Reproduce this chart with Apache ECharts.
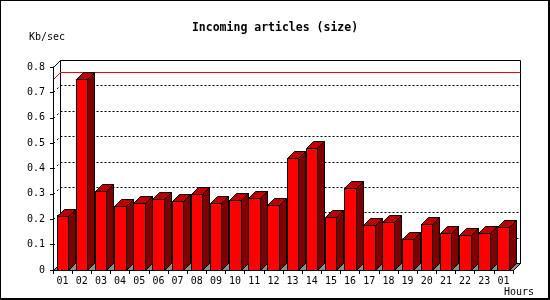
<!DOCTYPE html>
<html><head><meta charset="utf-8">
<script src="https://cdn.jsdelivr.net/npm/echarts@6/dist/echarts.min.js"></script>
<style>html,body{margin:0;padding:0;background:#fff}#c{width:550px;height:300px}</style>
</head><body><div id="c"></div>
<script>
// ---- data ----
const hours = ['01','02','03','04','05','06','07','08','09','10','11','12',
               '13','14','15','16','17','18','19','20','21','22','23','01'];
const sizes = [0.214,0.751,0.310,0.251,0.263,0.279,0.271,0.300,0.263,0.275,0.283,0.255,
               0.440,0.480,0.208,0.322,0.176,0.189,0.121,0.180,0.145,0.137,0.145,0.168];
const gridValues = [0.1,0.2,0.3,0.4,0.5,0.6,0.7];
const titleText = 'Incoming articles (size)';
const yUnit = 'Kb/sec';
const xUnit = 'Hours';

const DEPTH = 7;
const MONO = '"DejaVu Sans Mono", monospace';
const p = v => Math.round(v) + 0.5;

function renderBack(params, api) {
  const cs = params.coordSys;
  const d = DEPTH;
  const x0 = p(cs.x), x1 = p(cs.x + cs.width);
  const yT = p(cs.y), yB = p(cs.y + cs.height);
  const ch = [];
  ch.push({type:'polygon', shape:{points:[[x0+d,yT-d],[x1+d,yT-d],[x1+d,yB-d],[x0+d,yB-d]]},
    style:{fill:'#fff', stroke:'#000', lineWidth:1}});
  ch.push({type:'line', shape:{x1:x0, y1:yT, x2:x0+d, y2:yT-d}, style:{stroke:'#000', lineWidth:1}});
  ch.push({type:'polygon', shape:{points:[[x0,yB],[x0+d,yB-d],[x1+d,yB-d],[x1,yB]]},
    style:{fill:'#8c8c8c', stroke:'#000', lineWidth:1}});
  gridValues.forEach(v => {
    const y = p(api.coord([0, v])[1]);
    ch.push({type:'line', shape:{x1:x0+d, y1:y-d, x2:x1+d, y2:y-d},
      style:{stroke:'#000', lineWidth:1, lineDash:[2,2]}});
    ch.push({type:'line', shape:{x1:x0, y1:y, x2:x0+d, y2:y-d},
      style:{stroke:'#000', lineWidth:1, lineDash:[2,3]}});
  });
  const vmax = Math.max.apply(null, sizes);
  const ym = p(api.coord([0, vmax])[1]);
  ch.push({type:'polyline', shape:{points:[[x0,ym],[x0+d,ym-d],[x1+d,ym-d]]},
    style:{stroke:'#ff0000', lineWidth:1, fill:null}});
  return {type:'group', children:ch};
}

function renderBar(params, api) {
  const d = DEPTH;
  const c = api.coord([api.value(0), api.value(1)]);
  const b = api.coord([api.value(0), 0]);
  const fx0 = p(c[0] - 6), fx1 = p(c[0] + 5.5);
  const top = p(c[1]), bot = p(b[1]);
  const st = {stroke:'#000', lineWidth:1};
  return {type:'group', children:[
    {type:'polygon', shape:{points:[[fx1,top],[fx1+d,top-d],[fx1+d,bot-d],[fx1,bot]]},
      style:Object.assign({fill:'#800000'}, st)},
    {type:'polygon', shape:{points:[[fx0,top],[fx0+d,top-d],[fx1+d,top-d],[fx1,top]]},
      style:Object.assign({fill:'#c00000'}, st)},
    {type:'rect', shape:{x:fx0, y:top, width:fx1-fx0, height:bot-top},
      style:Object.assign({fill:'#ff0000'}, st)}
  ]};
}

const chart = echarts.init(document.getElementById('c'));
chart.setOption({
  animation:false,
  backgroundColor:'#fff',
  title:{text:titleText, left:'center', top:17,
    textStyle:{fontFamily:MONO, fontWeight:'bold', fontSize:11.5, color:'#000'}},
  grid:{left:53, right:37, top:67, bottom:30, containLabel:false},
  xAxis:{type:'category', data:hours, boundaryGap:true, z:10,
    axisLine:{lineStyle:{color:'#000', width:1}},
    axisTick:{show:true, length:4, interval:0, lineStyle:{color:'#000'}},
    axisLabel:{interval:0, margin:6, fontFamily:MONO, fontSize:10, color:'#000'},
    splitLine:{show:false}},
  yAxis:{type:'value', min:0, max:0.8, interval:0.1, z:10,
    axisLine:{show:true, lineStyle:{color:'#000', width:1}},
    axisTick:{show:true, length:3, lineStyle:{color:'#000'}},
    axisLabel:{margin:8, fontFamily:MONO, fontSize:10, color:'#000'},
    splitLine:{show:false}},
  series:[
    {type:'custom', name:'back', renderItem:renderBack, data:[[0,0]], clip:false, z:1, silent:true},
    {type:'custom', name:'size', renderItem:renderBar, clip:false, z:2,
      data:sizes.map((v,i)=>[i,v])}
  ],
  graphic:[
    {type:'text', left:29, top:32, style:{text:yUnit, font:'10px ' + MONO, fill:'#000'}},
    {type:'text', left:504, top:287, style:{text:xUnit, font:'10px ' + MONO, fill:'#000'}},
    {type:'rect', left:0, top:0, shape:{x:0,y:0,width:550,height:1}, style:{fill:'#000'}},
    {type:'rect', left:0, top:0, shape:{x:0,y:0,width:1,height:300}, style:{fill:'#000'}},
    {type:'rect', left:548, top:0, shape:{x:0,y:0,width:2,height:300}, style:{fill:'#000'}},
    {type:'rect', left:0, top:298, shape:{x:0,y:0,width:550,height:2}, style:{fill:'#000'}}
  ]
});
</script></body></html>
